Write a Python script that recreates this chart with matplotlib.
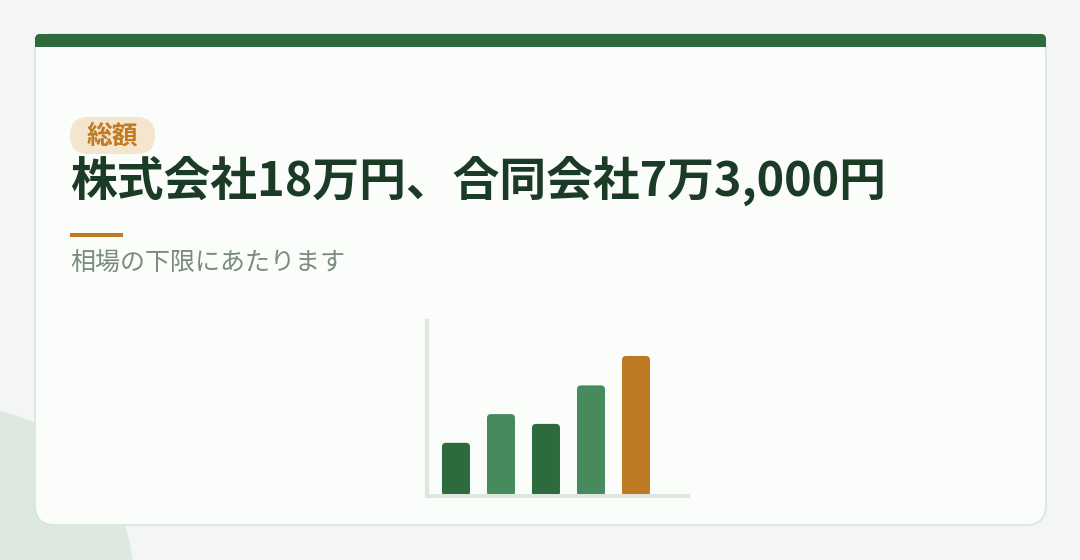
import numpy as np
import matplotlib
matplotlib.use("Agg")
import matplotlib.pyplot as plt
from matplotlib.patches import FancyBboxPatch, Circle, Rectangle

plt.rcParams['font.family'] = ['Noto Sans CJK JP', 'DejaVu Sans']

# texts
badge = "総額"
title = "株式会社18万円、合同会社7万3,000円"
subtitle = "相場の下限にあたります"

# bar data (relative size, last bar = 100)
bar_values = [38, 58.5, 51.5, 79, 100]
bar_colors = ["#2d6a3e", "#468a5e", "#2d6a3e", "#468a5e", "#bd7a22"]

fig = plt.figure(figsize=(10.8, 5.6), dpi=100)
fig.patch.set_facecolor("#f3f6f4")

# full-figure axes in pixel units for the card decoration
bg = fig.add_axes([0, 0, 1, 1])
bg.set_xlim(0, 1080)
bg.set_ylim(560, 0)
bg.axis("off")

bg.add_patch(Circle((-40, 580), 173, color="#dde8e0", zorder=0))

# card
bg.add_patch(FancyBboxPatch((35, 34), 1011, 491, boxstyle="round,pad=0,rounding_size=20",
                            facecolor="#fbfdfb", edgecolor="#d8e6dc", linewidth=1.2, zorder=1))
# top bar
bg.add_patch(FancyBboxPatch((35, 34), 1011, 13, boxstyle="round,pad=0,rounding_size=5",
                            facecolor="#2d6a3e", edgecolor="none", zorder=2))
bg.add_patch(Rectangle((35, 41), 1011, 6, facecolor="#2d6a3e", edgecolor="none", zorder=2))

# badge pill
bg.add_patch(FancyBboxPatch((70, 117), 85, 37, boxstyle="round,pad=0,rounding_size=18.5",
                            facecolor="#f4e6cd", edgecolor="none", zorder=2))
bg.text(112.5, 144, badge, ha="center", va="baseline", fontsize=18.5,
        fontweight="bold", color="#bf7a22", zorder=3)

# title
bg.text(70, 196, title, ha="left", va="baseline", fontsize=33.7,
        fontweight="bold", color="#1c3b26", zorder=3)

# accent line
bg.add_patch(Rectangle((70, 233), 53, 4, facecolor="#bd7a22", edgecolor="none", zorder=3))

# subtitle
bg.text(70, 271, subtitle, ha="left", va="baseline", fontsize=18,
        color="#7b8b80", zorder=3)

# small bar chart
ax = fig.add_axes([427 / 1080, (560 - 496) / 560, (688 - 427) / 1080, (496 - 321) / 560])
ax.patch.set_visible(False)
ax.set_xlim(-0.644, 5.156)
ax.set_ylim(0, 125)
for s in ["top", "right"]:
    ax.spines[s].set_visible(False)
for s in ["left", "bottom"]:
    ax.spines[s].set_color("#dde7e0")
    ax.spines[s].set_linewidth(2.9)
ax.set_xticks([])
ax.set_yticks([])

bars = ax.bar(np.arange(len(bar_values)), bar_values, width=28 / 45, color=bar_colors)
# swap plain bars for rounded ones
px_x = 45.0            # pixels per x unit
px_y = 175 / 125.0     # pixels per y unit
for b in bars:
    x0, y0 = b.get_x(), b.get_y()
    w, h = b.get_width(), b.get_height()
    b.set_visible(False)
    ax.add_patch(FancyBboxPatch((x0, y0), w, h,
                                boxstyle="round,pad=0,rounding_size=%f" % (4 / px_x),
                                mutation_aspect=px_x / px_y,
                                facecolor=b.get_facecolor(), edgecolor="none", zorder=1))

fig.savefig("out.png", dpi=100, facecolor=fig.get_facecolor())
